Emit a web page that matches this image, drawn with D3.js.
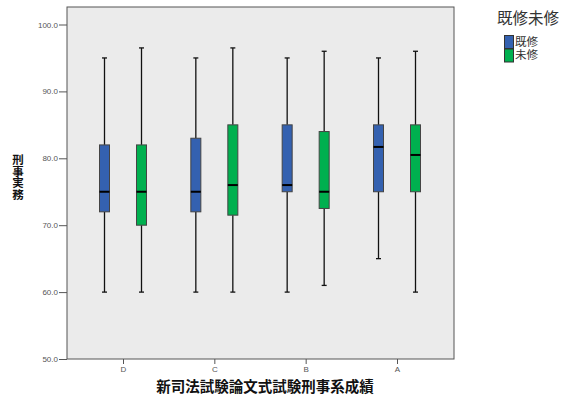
<!DOCTYPE html>
<html><head><meta charset="utf-8">
<script src="https://cdn.jsdelivr.net/npm/d3@7"></script>
<style>body{margin:0;background:#fff;}svg{display:block;}</style>
</head><body>
<script>
const categories = ["D", "C", "B", "A"];
const seriesNames = ["既修", "未修"];
// [low whisker, Q1, median, Q3, high whisker]
const kishu = [[60, 72, 75, 82, 95], [60, 72, 75, 83, 95], [60, 75, 76, 85, 95], [65, 75, 81.7, 85, 95]];
const mishu = [[60, 70, 75, 82, 96.5], [60, 71.5, 76, 85, 96.5], [61, 72.5, 75, 84, 96], [60, 75, 80.5, 85, 96]];
const yTicks = [50, 60, 70, 80, 90, 100];
const colors = ["#3461b0", "#00b04f"];
const xTitle = "新司法試験論文式試験刑事系成績";
const yTitle = "刑事実務";
const legendTitle = "既修未修";

const W = 568, H = 399;
const m = {l: 67, t: 7, r: 454, b: 359};
const svg = d3.select("body").append("svg").attr("width", W).attr("height", H)
  .style("font-family", "Arial, 'Liberation Sans', 'Noto Sans CJK JP', sans-serif");

svg.append("rect").attr("x", m.l).attr("y", m.t).attr("width", m.r - m.l).attr("height", m.b - m.t)
  .attr("fill", "#ebebeb").attr("stroke", "#555").attr("stroke-width", 1);

const y = d3.scaleLinear().domain([50, 100]).range([m.b, 24.5]);
const x = d3.scalePoint().domain(categories).range([123, 397]);

const yAxis = svg.append("g").attr("transform", `translate(${m.l},0)`)
  .call(d3.axisLeft(y).tickValues(yTicks).tickFormat(d3.format(".1f")).tickSize(8).tickSizeOuter(0));
yAxis.select(".domain").remove();
yAxis.selectAll("line").attr("stroke", "#555");
yAxis.selectAll("text").attr("font-size", 8).attr("fill", "#555").attr("x", -9);

const xAxis = svg.append("g").attr("transform", `translate(0,${m.b})`)
  .call(d3.axisBottom(x).tickSize(5).tickSizeOuter(0));
xAxis.select(".domain").remove();
xAxis.selectAll("line").attr("stroke", "#555");
xAxis.selectAll("text").attr("font-size", 8).attr("fill", "#555").attr("y", 7);

const series = [kishu, mishu];
const offs = [-18.5, 18.5];
const bw = 10;
series.forEach((ser, si) => {
  categories.forEach((c, ci) => {
    const [lo, q1, med, q3, hi] = ser[ci];
    const cx = x(c) + offs[si];
    const g = svg.append("g");
    g.append("line").attr("x1", cx).attr("x2", cx).attr("y1", y(hi)).attr("y2", y(q3)).attr("stroke", "#111").attr("stroke-width", 1.3);
    g.append("line").attr("x1", cx).attr("x2", cx).attr("y1", y(q1)).attr("y2", y(lo)).attr("stroke", "#111").attr("stroke-width", 1.3);
    g.append("line").attr("x1", cx - 2.5).attr("x2", cx + 2.5).attr("y1", y(hi)).attr("y2", y(hi)).attr("stroke", "#111").attr("stroke-width", 1.3);
    g.append("line").attr("x1", cx - 2.5).attr("x2", cx + 2.5).attr("y1", y(lo)).attr("y2", y(lo)).attr("stroke", "#111").attr("stroke-width", 1.3);
    g.append("rect").attr("x", cx - bw / 2).attr("y", y(q3)).attr("width", bw).attr("height", y(q1) - y(q3))
      .attr("fill", colors[si]).attr("stroke", "#444").attr("stroke-width", 1);
    g.append("line").attr("x1", cx - bw / 2).attr("x2", cx + bw / 2).attr("y1", y(med)).attr("y2", y(med)).attr("stroke", "#000").attr("stroke-width", 2);
  });
});

// axis titles
svg.append("text").attr("x", 265).attr("y", 392).attr("text-anchor", "middle")
  .attr("font-size", 14.5).attr("font-weight", "bold").attr("fill", "#111")
  .attr("font-family", "'Noto Sans CJK JP', sans-serif").text(xTitle);
svg.append("text").attr("x", 18).attr("y", 154)
  .style("writing-mode", "vertical-rl").style("text-orientation", "upright")
  .attr("font-size", 11.5).attr("font-weight", "bold").attr("fill", "#111")
  .attr("font-family", "'Noto Sans CJK JP', sans-serif").text(yTitle);

// legend
svg.append("text").attr("x", 528).attr("y", 24).attr("text-anchor", "middle")
  .attr("font-size", 15.5).attr("fill", "#333")
  .attr("font-family", "'Noto Sans CJK JP', sans-serif").text(legendTitle);
seriesNames.forEach((n, i) => {
  svg.append("rect").attr("x", 504.5).attr("y", 35.5 + i * 13.5).attr("width", 9).attr("height", 13)
    .attr("fill", colors[i]).attr("stroke", "#333").attr("stroke-width", 1);
  svg.append("text").attr("x", 515).attr("y", 46 + i * 13).attr("font-size", 11.5).attr("fill", "#333")
    .attr("font-family", "'Liberation Sans', 'Noto Sans CJK JP', sans-serif").text(n);
});
</script>
</body></html>
